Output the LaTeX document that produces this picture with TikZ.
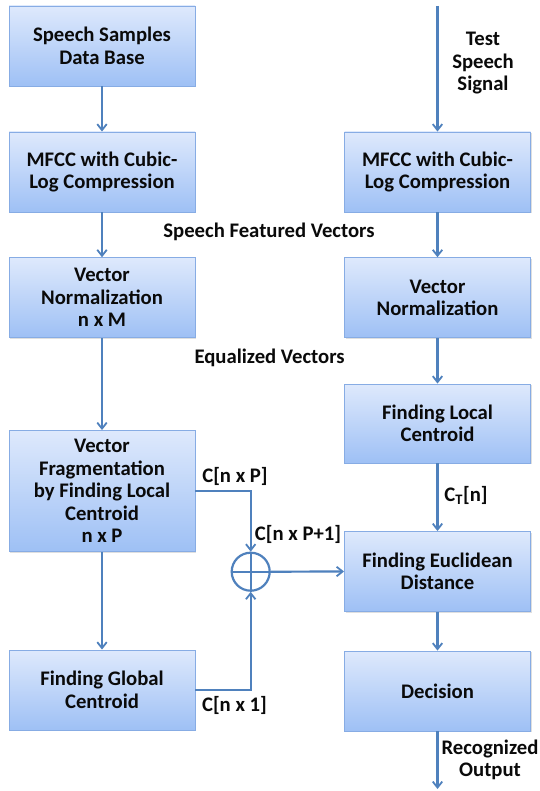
\documentclass[tikz,border=0pt]{standalone}
\usepackage{fontspec}
\setmainfont{Carlito}
\usetikzlibrary{arrows.meta,shadows}
\definecolor{boxtop}{RGB}{222,233,252}
\definecolor{boxbot}{RGB}{158,192,245}
\definecolor{boxline}{RGB}{135,172,228}
\definecolor{linkc}{RGB}{79,129,189}
\definecolor{txt}{RGB}{10,10,10}
\tikzset{
  blk/.style={draw=boxline, line width=0.9pt, top color=boxtop, bottom color=boxbot,
    minimum width=186pt, align=center, text=txt, inner sep=2pt,
    font=\fontsize{20.7}{22.5}\selectfont\bfseries,
    drop shadow={opacity=0.25, shadow xshift=1.2pt, shadow yshift=-1.2pt}},
  lbl/.style={text=txt, align=center, inner sep=0pt, font=\fontsize{20.7}{22.5}\selectfont\bfseries},
  link/.style={draw=linkc, line width=2.2pt, -{Straight Barb[length=6pt,width=9.5pt,line width=1.8pt]}},
  plain/.style={draw=linkc, line width=2.2pt}
}
\begin{document}
\begin{tikzpicture}[x=1pt,y=-1pt]
\useasboundingbox[fill=white] (0,0) rectangle (539,791);
% left column
\node[blk, minimum height=80pt] (l1) at (102,46) {Speech Samples\\Data Base};
\node[blk, minimum height=80pt] (l2) at (102,172) {MFCC with Cubic-\\Log Compression};
\node[blk, minimum height=80pt] (l3) at (102,297.7) {Vector\\Normalization\\n x M};
\node[blk, minimum height=121pt] (l4) at (102,491) {Vector\\Fragmentation\\by Finding Local\\Centroid\\n x P};
\node[blk, minimum height=80pt] (l5) at (102,690) {Finding Global\\Centroid};
% right column
\node[blk, minimum height=80pt] (r1) at (437.5,172) {MFCC with Cubic-\\Log Compression};
\node[blk, minimum height=80pt] (r2) at (437.5,297.7) {Vector\\Normalization};
\node[blk, minimum height=79pt] (r3) at (437.5,423.5) {Finding Local\\Centroid};
\node[blk, minimum height=80pt] (r4) at (437.5,571.5) {Finding Euclidean\\Distance};
\node[blk, minimum height=80pt] (r5) at (437.5,691) {Decision};
% summing junction
\node[draw=linkc, line width=2.2pt, fill=white, circle, minimum size=38pt, inner sep=0pt] (sum) at (250.7,571.7) {};
\draw[plain] (sum.north) -- (sum.south);
\draw[plain] (sum.west) -- (sum.east);
% free ends
\coordinate (tin) at (437.5,6);
\coordinate (tout) at (437.5,789);
% connectors
\draw[link] (l1) -- (l2);
\draw[link] (l2) -- (l3);
\draw[link] (l3) -- (l4);
\draw[link] (l4) -- (l5);
\draw[link] (tin) -- (r1);
\draw[link] (r1) -- (r2);
\draw[link] (r2) -- (r3);
\draw[link] (r3) -- (r4);
\draw[link] (r4) -- (r5);
\draw[link] (r5) -- (tout);
\draw[link] (l4.east) -| (sum.north);
\draw[link] (l5.east) -| (sum.south);
\draw[link] (sum.east) -- (r4.west);
% labels
\node[lbl] (t1) at (269,231.7) {Speech Featured Vectors};
\node[lbl] (t2) at (269.6,357.7) {Equalized Vectors};
\node[lbl] (t3) at (235,476.7) {C[n x P]};
\node[lbl] (t4) at (298,534) {C[n x P+1]};
\node[lbl] (t5) at (234.5,705) {C[n x 1]};
\node[lbl] (t6) at (466,495) {C\textsubscript{T}[n]};
\node[lbl] (t7) at (483,63.5) {Test\\Speech\\Signal};
\node[lbl] (t8) at (490,760) {Recognized\\Output};
\end{tikzpicture}
\end{document}
